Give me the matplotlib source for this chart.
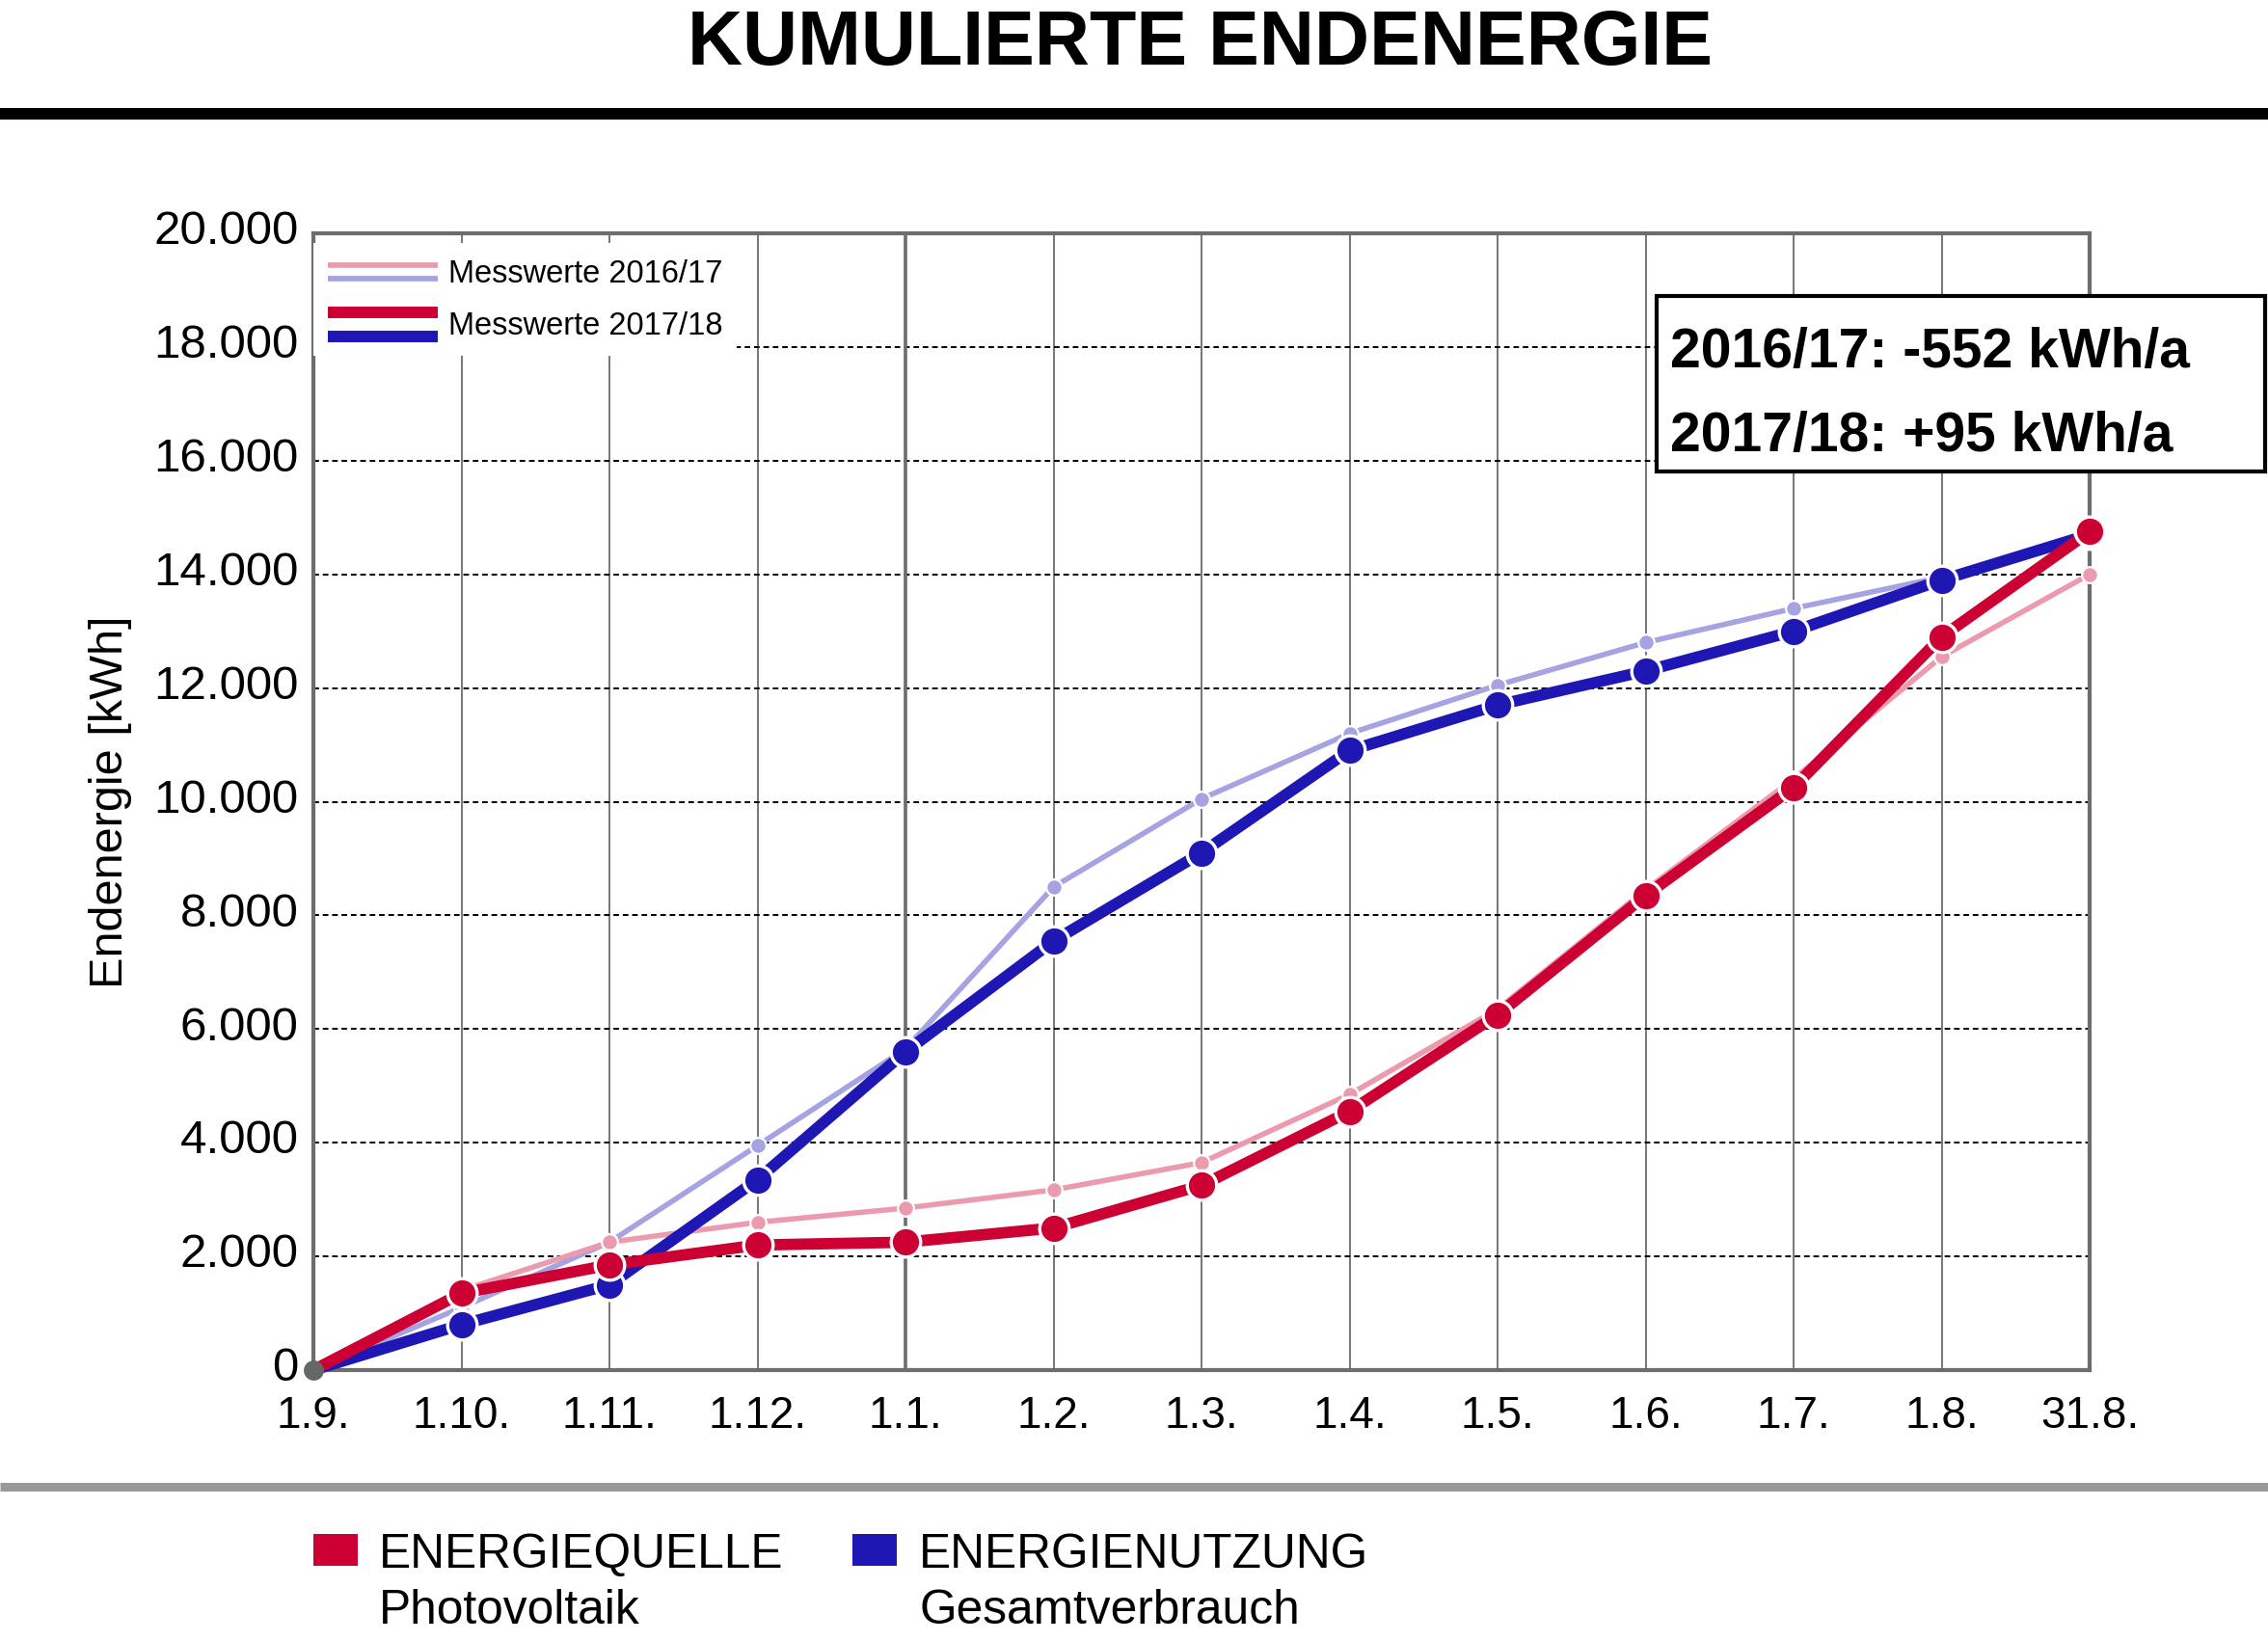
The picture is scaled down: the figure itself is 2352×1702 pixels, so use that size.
import matplotlib
matplotlib.use("Agg")
from matplotlib import pyplot as plt
from matplotlib.lines import Line2D
from matplotlib.patches import Rectangle
from matplotlib.legend_handler import HandlerBase
from matplotlib.transforms import ScaledTranslation

plt.rcParams['font.family'] = ['Liberation Sans', 'DejaVu Sans']

# ============= data =============
x_labels = ['1.9.', '1.10.', '1.11.', '1.12.', '1.1.', '1.2.', '1.3.',
            '1.4.', '1.5.', '1.6.', '1.7.', '1.8.', '31.8.']

# Messwerte 2017/18
pv_1718 = [0, 1350, 1850, 2200, 2250, 2500, 3250, 4550, 6250, 8350, 10250, 12900, 14750]
use_1718 = [0, 800, 1500, 3350, 5600, 7550, 9100, 10900, 11700, 12300, 13000, 13900, 14700]

# Messwerte 2016/17
pv_1617 = [0, 1400, 2250, 2600, 2850, 3170, 3650, 4850, 6350, 8450, 10400, 12550, 14000]
use_1617 = [0, 1100, 2250, 3950, 5650, 8500, 10050, 11200, 12050, 12800, 13400, 13950, 14700]

y_ticks = [0, 2000, 4000, 6000, 8000, 10000, 12000, 14000, 16000, 18000, 20000]
y_tick_labels = ['0', '2.000', '4.000', '6.000', '8.000', '10.000', '12.000',
                 '14.000', '16.000', '18.000', '20.000']

balance_lines = ['2016/17: -552 kWh/a', '2017/18: +95 kWh/a']

RED = '#cc0033'
BLUE = '#1f17b4'
PINK = '#eb9bad'
LAVENDER = '#a6a3e2'
GRID_GRAY = '#777777'
SPINE_GRAY = '#6d6d6d'

W, H = 2352, 1702


class LinePair:
    # two stacked lines in one legend entry
    def __init__(self, top, bottom, lw, gap):
        self.top = top
        self.bottom = bottom
        self.lw = lw
        self.gap = gap


class LinePairHandler(HandlerBase):
    def create_artists(self, legend, orig_handle, xdescent, ydescent,
                       width, height, fontsize, trans):
        yc = height / 2 - ydescent
        x0, x1 = -xdescent, width - xdescent
        g = orig_handle.gap / 2
        l1 = Line2D([x0, x1], [yc + g, yc + g], color=orig_handle.top,
                    lw=orig_handle.lw, solid_capstyle='butt', transform=trans)
        l2 = Line2D([x0, x1], [yc - g, yc - g], color=orig_handle.bottom,
                    lw=orig_handle.lw, solid_capstyle='butt', transform=trans)
        return [l1, l2]


def fx(px):
    return px / W


def fy(px):
    return 1 - px / H


fig = plt.figure(figsize=(W / 100, H / 100), dpi=100)

# ============= header =============
fig.text(0.529, fy(46), 'KUMULIERTE ENDENERGIE', ha='center', va='center',
         fontsize=57, fontweight='bold')
fig.add_artist(Line2D([0, 1], [fy(118), fy(118)], transform=fig.transFigure,
                      color='black', lw=8.6, solid_capstyle='butt'))

# ============= axes =============
ax = fig.add_axes([fx(325), fy(1421), fx(1842), (1421 - 242) / H])
x_pos = list(range(len(x_labels)))

ax.set_xlim(x_pos[0], x_pos[-1])
ax.set_ylim(y_ticks[0], y_ticks[-1])
ax.set_xticks(x_pos, labels=x_labels)
ax.set_yticks(y_ticks, labels=y_tick_labels)
ax.tick_params(axis='both', length=0)
ax.tick_params(axis='y', pad=11, labelsize=35.5)
ax.tick_params(axis='x', pad=19, labelsize=33)
ax.set_ylabel('Endenergie [kWh]', fontsize=35, labelpad=16)

# y labels sit a little above their grid line
lift = ScaledTranslation(0, 4.5 / 72, fig.dpi_scale_trans)
for lab in ax.get_yticklabels():
    lab.set_transform(lab.get_transform() + lift)

for side in ['left', 'right', 'top', 'bottom']:
    ax.spines[side].set_color(SPINE_GRAY)
    ax.spines[side].set_linewidth(3)
    ax.spines[side].set_zorder(2.5)

ax.set_axisbelow(True)
ax.xaxis.grid(True, color=GRID_GRAY, lw=1.4, ls='-')
ax.yaxis.grid(True, color='black', lw=1.4, ls=(0, (3, 2)))
# turn of the year drawn a bit stronger
ax.axvline(x_pos[x_labels.index('1.1.')], color=SPINE_GRAY, lw=2.6, zorder=1)

marks = list(range(1, len(x_pos)))
thin = dict(lw=4, marker='o', ms=12, mec='white', mew=1.6,
            markevery=marks, clip_on=False, solid_joinstyle='round')
thick = dict(lw=8.5, marker='o', ms=22, mec='white', mew=2.4,
             markevery=marks, clip_on=False, solid_joinstyle='round')

ax.plot(x_pos, use_1617, color=LAVENDER, zorder=3, **thin)
ax.plot(x_pos, pv_1617, color=PINK, zorder=3.1, **thin)
ax.plot(x_pos, use_1718, color=BLUE, zorder=4, **thick)
ax.plot(x_pos, pv_1718, color=RED, zorder=4.1, **thick)

# common starting point
ax.plot(x_pos[0], pv_1718[0], 'o', color='#666666', ms=15, mew=0,
        clip_on=False, zorder=6)

# ============= legend top left =============
handles = [LinePair(PINK, LAVENDER, 4.1, 10), LinePair(RED, BLUE, 8.6, 18)]
leg = ax.legend(handles, ['Messwerte 2016/17', 'Messwerte 2017/18'],
                handler_map={LinePair: LinePairHandler()},
                loc='upper left', bbox_to_anchor=(0, 1 - 10 / 1179),
                borderaxespad=0, borderpad=0.45, fontsize=23.5,
                handlelength=3.5, handleheight=1.1, handletextpad=0.33,
                labelspacing=0.62, frameon=True, fancybox=False,
                facecolor='white', edgecolor='none', framealpha=1)
leg.set_zorder(5)

# ============= balance box =============
fig.add_artist(Rectangle((fx(1718), fy(489)), fx(2349 - 1718), (489 - 307) / H,
                         transform=fig.transFigure, facecolor='white',
                         edgecolor='black', lw=3, zorder=5))
fig.text(fx(1732), fy(366), balance_lines[0], fontsize=41, fontweight='bold',
         va='center', ha='left', zorder=6)
fig.text(fx(1732), fy(453), balance_lines[1], fontsize=41, fontweight='bold',
         va='center', ha='left', zorder=6)

# ============= footer =============
fig.add_artist(Line2D([0, 1], [fy(1542), fy(1542)], transform=fig.transFigure,
                      color='#999999', lw=6.5, solid_capstyle='butt'))

fig.add_artist(Rectangle((fx(325), fy(1624)), fx(46), 33 / H,
                         transform=fig.transFigure, facecolor=RED, lw=0))
fig.add_artist(Rectangle((fx(884), fy(1624)), fx(46), 33 / H,
                         transform=fig.transFigure, facecolor=BLUE, lw=0))
fig.text(fx(393), fy(1626), 'ENERGIEQUELLE', fontsize=35.7, va='baseline')
fig.text(fx(393), fy(1684), 'Photovoltaik', fontsize=35.7, va='baseline')
fig.text(fx(953), fy(1626), 'ENERGIENUTZUNG', fontsize=35.7, va='baseline')
fig.text(fx(953), fy(1684), 'Gesamtverbrauch', fontsize=35.7, va='baseline')

fig.savefig('out.png', dpi=100)
